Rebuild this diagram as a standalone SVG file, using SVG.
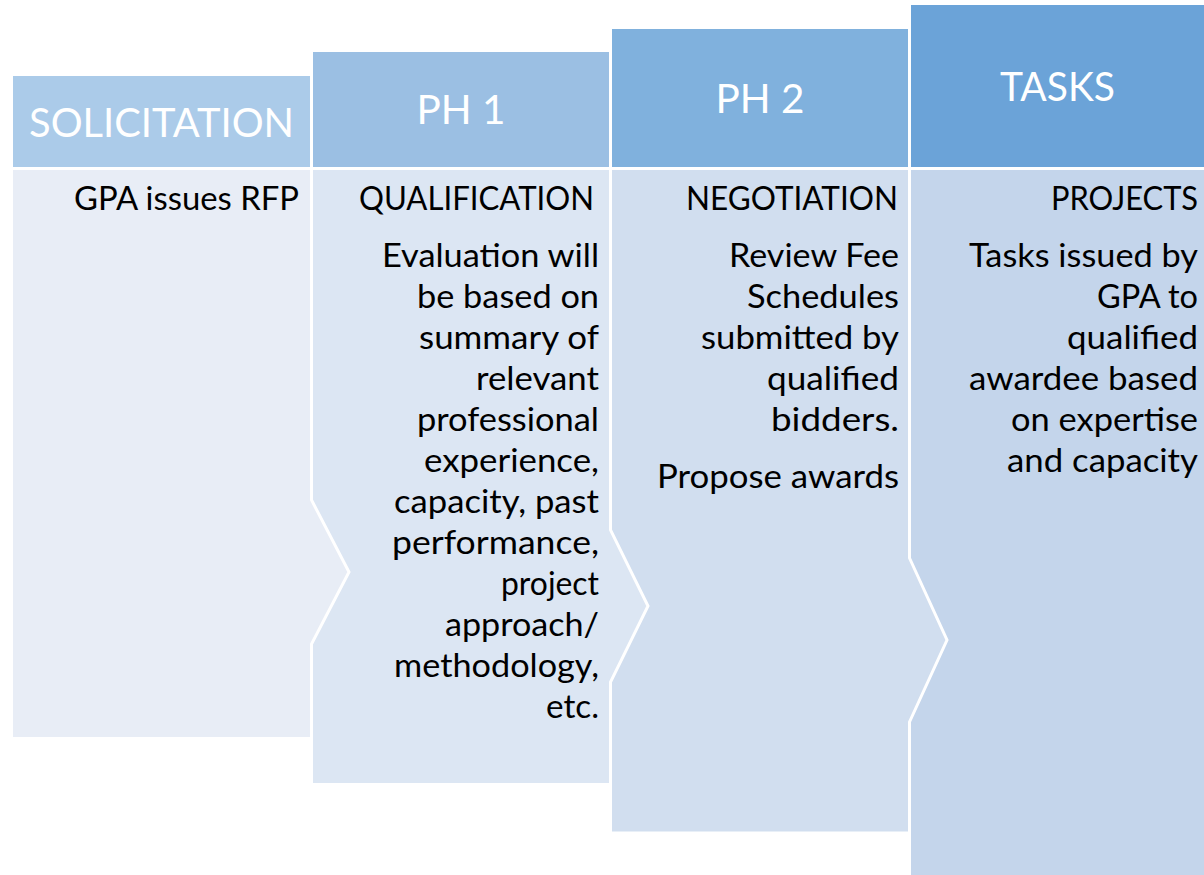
<svg xmlns="http://www.w3.org/2000/svg" width="1204" height="875" viewBox="0 0 1204 875">
<style>
.hd{font-family:Lato,"Open Sans","Liberation Sans",sans-serif;font-size:41px;fill:#fff;text-anchor:middle}
.tx{font-family:Lato,"Open Sans","Liberation Sans",sans-serif;font-size:32px;fill:#000;text-anchor:end}
.body{stroke:#fff;stroke-width:3;stroke-linejoin:miter}
</style>
<rect width="1204" height="875" fill="#fff"/>
<g id="tasks">
<rect x="911" y="5" width="293" height="162" fill="#6BA3D8"/>
<text class="hd" x="1057.5" y="101" textLength="115" lengthAdjust="spacingAndGlyphs">TASKS</text>
<polygon class="body" fill="#C4D5EB" points="909.5,168.5 1210,168.5 1210,880 909.5,880"/>
<text class="tx" x="1198" y="210" textLength="147" lengthAdjust="spacingAndGlyphs">PROJECTS</text>
<text class="tx" x="1198" y="267" textLength="229" lengthAdjust="spacingAndGlyphs">Tasks issued by</text>
<text class="tx" x="1198" y="308" textLength="101" lengthAdjust="spacingAndGlyphs">GPA to</text>
<text class="tx" x="1198" y="349" textLength="131" lengthAdjust="spacingAndGlyphs">qualified</text>
<text class="tx" x="1198" y="390" textLength="229" lengthAdjust="spacingAndGlyphs">awardee based</text>
<text class="tx" x="1198" y="431" textLength="187" lengthAdjust="spacingAndGlyphs">on expertise</text>
<text class="tx" x="1198" y="472" textLength="191" lengthAdjust="spacingAndGlyphs">and capacity</text>
</g>
<g id="ph2">
<rect x="612" y="29" width="296" height="138" fill="#80B1DD"/>
<text class="hd" x="760" y="113" textLength="89" lengthAdjust="spacingAndGlyphs">PH 2</text>
<polygon class="body" fill="#D1DEEF" points="610.5,168.5 909.5,168.5 909.5,558 947,640 909.5,722 909.5,833 610.5,833"/>
<text class="tx" x="898" y="210" textLength="212" lengthAdjust="spacingAndGlyphs">NEGOTIATION</text>
<text class="tx" x="899" y="267" textLength="170" lengthAdjust="spacingAndGlyphs">Review Fee</text>
<text class="tx" x="899" y="308" textLength="152" lengthAdjust="spacingAndGlyphs">Schedules</text>
<text class="tx" x="899" y="349" textLength="198" lengthAdjust="spacingAndGlyphs">submitted by</text>
<text class="tx" x="899" y="390" textLength="132" lengthAdjust="spacingAndGlyphs">qualified</text>
<text class="tx" x="899" y="431" textLength="128" lengthAdjust="spacingAndGlyphs">bidders.</text>
<text class="tx" x="899" y="488" textLength="242" lengthAdjust="spacingAndGlyphs">Propose awards</text>
</g>
<g id="ph1">
<rect x="313" y="52" width="296" height="115" fill="#9BBFE3"/>
<text class="hd" x="461" y="124" textLength="89" lengthAdjust="spacingAndGlyphs">PH 1</text>
<polygon class="body" fill="#DCE6F3" points="311.5,168.5 610.5,168.5 610.5,530 648,606 610.5,682 610.5,784.5 311.5,784.5"/>
<text class="tx" x="594" y="210" textLength="235" lengthAdjust="spacingAndGlyphs">QUALIFICATION</text>
<text class="tx" x="599" y="267" textLength="217" lengthAdjust="spacingAndGlyphs">Evaluation will</text>
<text class="tx" x="599" y="308" textLength="182" lengthAdjust="spacingAndGlyphs">be based on</text>
<text class="tx" x="599" y="349" textLength="180" lengthAdjust="spacingAndGlyphs">summary of</text>
<text class="tx" x="599" y="390" textLength="123" lengthAdjust="spacingAndGlyphs">relevant</text>
<text class="tx" x="599" y="431" textLength="182" lengthAdjust="spacingAndGlyphs">professional</text>
<text class="tx" x="599" y="472" textLength="175" lengthAdjust="spacingAndGlyphs">experience,</text>
<text class="tx" x="599" y="513" textLength="205" lengthAdjust="spacingAndGlyphs">capacity, past</text>
<text class="tx" x="599" y="554" textLength="207" lengthAdjust="spacingAndGlyphs">performance,</text>
<text class="tx" x="599" y="595" textLength="98" lengthAdjust="spacingAndGlyphs">project</text>
<text class="tx" x="599" y="636" textLength="154" lengthAdjust="spacingAndGlyphs">approach/</text>
<text class="tx" x="599" y="677" textLength="205" lengthAdjust="spacingAndGlyphs">methodology,</text>
<text class="tx" x="599" y="718" textLength="53" lengthAdjust="spacingAndGlyphs">etc.</text>
</g>
<g id="solicitation">
<rect x="13" y="76" width="297" height="91" fill="#ABCBE9"/>
<text class="hd" x="161.5" y="137" textLength="265" lengthAdjust="spacingAndGlyphs">SOLICITATION</text>
<polygon class="body" fill="#E8EDF6" points="11.5,168.5 311.5,168.5 311.5,500 349,572 311.5,644 311.5,738.5 11.5,738.5"/>
<text class="tx" x="299" y="210" textLength="225" lengthAdjust="spacingAndGlyphs">GPA issues RFP</text>
</g>
</svg>
